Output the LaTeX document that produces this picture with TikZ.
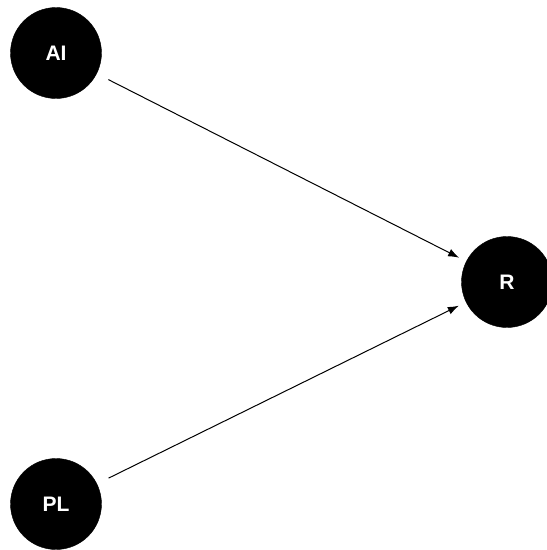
\documentclass[tikz,border=0pt]{standalone}
\usepackage{fontspec}
\setmainfont{Liberation Sans}
\usetikzlibrary{arrows.meta}
\begin{document}
\begin{tikzpicture}[x=1pt,y=-1pt,
  vnode/.style={circle,fill=black,draw=black,minimum size=91pt,inner sep=0pt,
    text=white,font=\fontsize{21pt}{22pt}\selectfont\bfseries},
  conn/.style={draw=black,line width=1pt,-{Latex[length=11pt,width=8pt]},shorten <=13pt,shorten >=8pt}]
\useasboundingbox (0,0) rectangle (547,550);
\node[vnode] (AI) at (56,53) {AI};
\node[vnode] (R) at (507,282) {R};
\node[vnode] (PL) at (56,504) {PL};
\draw[conn] (AI) -- (R);
\draw[conn] (PL) -- (R);
\end{tikzpicture}
\end{document}
